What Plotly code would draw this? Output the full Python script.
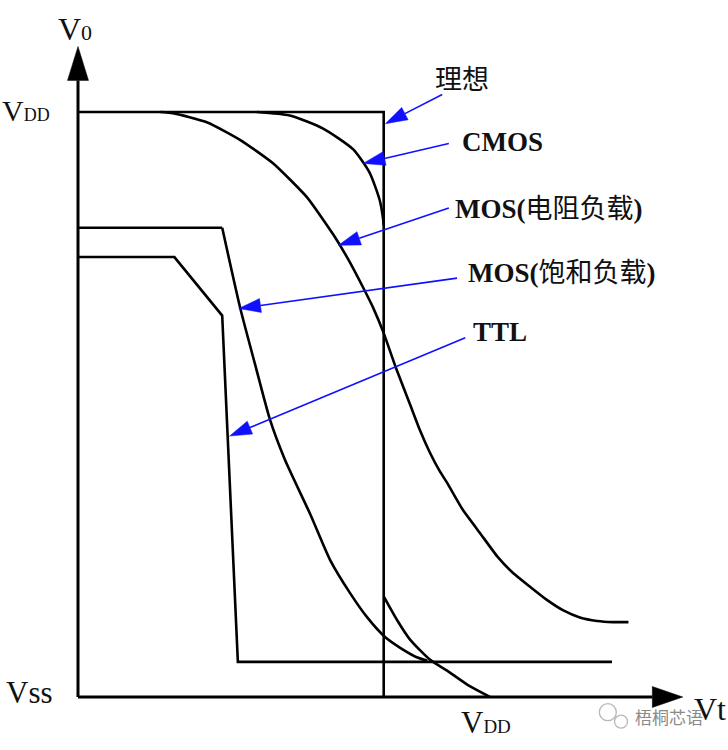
import numpy as np
import plotly.graph_objects as go

# ---------------- data (Vin, Vout in arbitrary volts, VDD = 5) ----------------
ideal_x = [0.0, 3.71, 3.71]
ideal_y = [5.0, 5.0, 0.0]

cmos_hi_x = [2.17, 2.57, 2.97, 3.34, 3.54, 3.66, 3.70, 3.71]
cmos_hi_y = [5.00, 4.97, 4.86, 4.68, 4.48, 4.25, 4.10, 4.03]
cmos_lo_x = [3.71, 3.87, 4.03, 4.27, 4.51, 4.76, 5.00]
cmos_lo_y = [0.86, 0.66, 0.49, 0.32, 0.21, 0.09, 0.00]

res_x = [1.00, 1.15, 1.57, 1.97, 2.37, 2.78, 3.10, 3.28, 3.46, 3.58, 3.71, 3.86, 4.03, 4.15,
         4.27, 4.39, 4.48, 4.67, 4.88, 5.09, 5.28, 5.49, 5.69, 5.89, 6.09, 6.30, 6.49, 6.68]
res_y = [5.00, 4.99, 4.91, 4.76, 4.56, 4.27, 3.95, 3.74, 3.50, 3.33, 3.11, 2.81, 2.50, 2.28,
         2.09, 1.93, 1.83, 1.60, 1.40, 1.20, 1.06, 0.94, 0.83, 0.74, 0.68, 0.65, 0.64, 0.64]

sat_flat_x = [0.0, 1.75]
sat_flat_y = [4.01, 4.01]
sat_x = [1.75, 1.97, 2.15, 2.33, 2.51, 2.82, 3.06, 3.30, 3.51, 3.73, 3.91, 4.11, 4.24]
sat_y = [4.01, 3.32, 2.84, 2.37, 2.03, 1.56, 1.17, 0.89, 0.68, 0.51, 0.42, 0.34, 0.31]

ttl_x = [0.0, 1.17, 1.75, 1.94, 6.48]
ttl_y = [3.76, 3.76, 3.26, 0.30, 0.30]

# callout labels and their arrows (tail -> tip)
labels = ["理想", "<b>CMOS</b>", "<b>MOS(</b>电阻负载<b>)</b>", "<b>MOS(</b>饱和负载<b>)</b>", "<b>TTL</b>"]
label_x = [4.66, 5.15, 4.55, 4.71, 4.77]
label_y = [5.27, 4.74, 4.17, 3.62, 3.12]
label_anchor = ["center", "center", "left", "left", "left"]
arrow_tail_x = [4.42, 4.50, 4.50, 4.60, 4.70]
arrow_tail_y = [5.15, 4.73, 4.18, 3.58, 3.07]
arrow_tip_x = [3.73, 3.46, 3.16, 1.95, 1.84]
arrow_tip_y = [4.90, 4.56, 3.86, 3.32, 2.23]

# axes
y_axis_top = 5.27
y_axis_tip = 5.56
x_axis_end = 6.97
x_axis_tip = 7.34

# ---------------- figure geometry ----------------
W, H = 728, 750
X_MIN, X_MAX = -0.9466, 7.8883
Y_MIN, Y_MAX = -0.453, 5.957
PX_X = W / (X_MAX - X_MIN)
PX_Y = H / (Y_MAX - Y_MIN)

BLACK = "#000000"
BLUE = "#1010ff"
LW = 2.6
SERIF = "Liberation Serif, Times New Roman, Noto Sans CJK SC, serif"

fig = go.Figure()


def line(x, y, shape="linear", width=LW, color=BLACK, smoothing=0.6):
    fig.add_trace(go.Scatter(x=x, y=y, mode="lines",
                             line=dict(color=color, width=width, shape=shape, smoothing=smoothing),
                             hoverinfo="skip"))


def triangle(tipx, tipy, dirx, diry, length_px, half_px, color):
    dx, dy = dirx * PX_X, diry * PX_Y
    L = np.hypot(dx, dy)
    ux, uy = dx / L, dy / L
    tpx, tpy = tipx * PX_X, tipy * PX_Y
    bx, by = tpx - length_px * ux, tpy - length_px * uy
    nx, ny = -uy, ux
    xs = [tpx, bx + half_px * nx, bx - half_px * nx, tpx]
    ys = [tpy, by + half_px * ny, by - half_px * ny, tpy]
    fig.add_trace(go.Scatter(x=[v / PX_X for v in xs], y=[v / PX_Y for v in ys],
                             mode="lines", fill="toself", fillcolor=color,
                             line=dict(color=color, width=0.5), hoverinfo="skip"))
    return bx / PX_X, by / PX_Y


# axes
line([0, 0], [0, y_axis_top], width=3)
line([0, x_axis_end], [0, 0], width=3)
triangle(0, y_axis_tip, 0, 1, (y_axis_tip - y_axis_top) * PX_Y, 10.5, BLACK)
triangle(x_axis_tip, 0, 1, 0, (x_axis_tip - x_axis_end) * PX_X, 10.5, BLACK)

# curves
line(ideal_x, ideal_y)
line(cmos_hi_x, cmos_hi_y, shape="spline")
line(cmos_lo_x, cmos_lo_y, shape="spline")
line(res_x, res_y, shape="spline", smoothing=0.5)
line(sat_flat_x, sat_flat_y)
line(sat_x, sat_y, shape="spline")
line(ttl_x, ttl_y)

# callout arrows
for tx, ty, hx, hy in zip(arrow_tail_x, arrow_tail_y, arrow_tip_x, arrow_tip_y):
    bx, by = triangle(hx, hy, hx - tx, hy - ty, 22, 7, BLUE)
    line([tx, bx], [ty, by], width=1.6, color=BLUE)

annotations = []
for t, x, y, a in zip(labels, label_x, label_y, label_anchor):
    annotations.append(dict(x=x, y=y, text=t, showarrow=False, xanchor=a, yanchor="middle",
                            font=dict(family=SERIF, size=27, color="#111111")))

# axis labels
annotations += [
    dict(x=-0.04, y=5.71, text='V<span style="font-size:22px">0</span>', showarrow=False,
         xanchor="center", yanchor="middle", font=dict(family=SERIF, size=32, color="#111111")),
    dict(x=-0.31, y=5.01, text='V<span style="font-size:18px">DD</span>', showarrow=False,
         xanchor="right", yanchor="middle", font=dict(family=SERIF, size=30, color="#111111")),
    dict(x=-0.28, y=0.04, text='Vss', showarrow=False,
         xanchor="right", yanchor="middle", font=dict(family=SERIF, size=31, color="#111111")),
    dict(x=4.95, y=-0.22, text='V<span style="font-size:19px">DD</span>', showarrow=False,
         xanchor="center", yanchor="middle", font=dict(family=SERIF, size=31, color="#111111")),
    dict(x=7.45, y=-0.10, text='Vt', showarrow=False,
         xanchor="left", yanchor="middle", font=dict(family=SERIF, size=32, color="#111111")),
    dict(x=6.74, y=-0.17, text='梧桐芯语', showarrow=False,
         xanchor="left", yanchor="middle", font=dict(family="Noto Sans CJK SC", size=17, color="#8a8a8a")),
]

# watermark icon
fig.add_trace(go.Scatter(x=[6.43, 6.59], y=[-0.13, -0.21], mode="markers",
                         marker=dict(symbol="circle-open", size=[17, 13], color="#9a9a9a",
                                     line=dict(width=1.3)), hoverinfo="skip"))

fig.update_layout(
    width=W, height=H, margin=dict(l=0, r=0, t=0, b=0),
    paper_bgcolor="white", plot_bgcolor="white", showlegend=False,
    xaxis=dict(range=[X_MIN, X_MAX], visible=False, fixedrange=True),
    yaxis=dict(range=[Y_MIN, Y_MAX], visible=False, fixedrange=True),
    annotations=annotations,
)

fig.write_html("out.html", config={"displayModeBar": False},
               post_script="document.body.style.margin='0px';")
